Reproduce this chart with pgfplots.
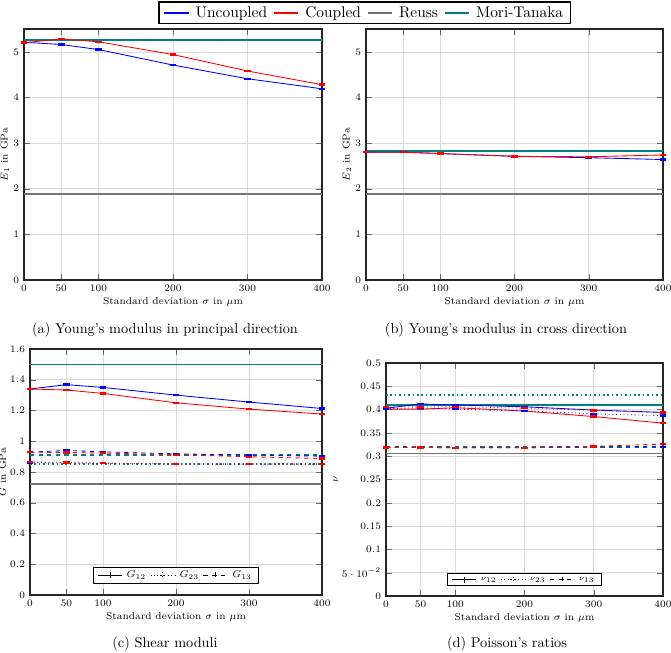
\documentclass[border=0pt]{standalone}
\usepackage{pgfplots}
\pgfplotsset{compat=1.18}
\definecolor{mtcol}{RGB}{0,128,128}
\pgfplotsset{
  myax/.style={scale only axis, anchor=north west, xmin=0, xmax=400,
    xtick={0,50,100,200,300,400}, grid=major, grid style={gray!30},
    tick label style={font=\scriptsize}, label style={font=\scriptsize},
    xlabel={Standard deviation $\sigma$ in $\mu$m},
    axis line style={thick,black!85}, tick style={black!60},
    xlabel style={yshift=3pt}, ylabel style={yshift=-4pt}},
  unc/.style={blue, semithick, forget plot, mark=-, mark size=2.4pt,
    mark options={solid, line width=1.7pt}},
  cpl/.style={red, semithick, forget plot, mark=-, mark size=2.4pt,
    mark options={solid, line width=1.7pt}},
  reuss/.style={black!55, line width=1.1pt, forget plot},
  mt/.style={mtcol, line width=1.1pt, forget plot},
}
\begin{document}
\begin{tikzpicture}
\useasboundingbox (0,0) rectangle (469.7pt,-457.1pt);
% (a)
\begin{axis}[myax, at={(16.8pt,-20.3pt)}, width=208.6pt, height=175.7pt,
  ymin=0, ymax=5.5, ytick={0,1,2,3,4,5}, ylabel={$E_1$ in GPa},
  legend columns=4,
  legend style={at={(1.143,1.064)}, anchor=center, font=\fontsize{10.8}{13}\selectfont,
    draw=black, line width=0.9pt, inner ysep=1pt, column sep=2pt}]
\addlegendimage{blue, line width=1.6pt}\addlegendentry{Uncoupled}
\addlegendimage{red, line width=1.6pt}\addlegendentry{Coupled}
\addlegendimage{black!55, line width=1.6pt}\addlegendentry{Reuss}
\addlegendimage{mtcol, line width=1.6pt}\addlegendentry{Mori-Tanaka}
\addplot[reuss] coordinates {(0,1.89) (400,1.89)};
\addplot[mt] coordinates {(0,5.26) (400,5.26)};
\addplot[unc] coordinates {(0,5.21) (50,5.16) (100,5.05) (200,4.71) (300,4.41) (400,4.19)};
\addplot[cpl] coordinates {(0,5.20) (50,5.28) (100,5.22) (200,4.94) (300,4.58) (400,4.28)};
\end{axis}
% (b)
\begin{axis}[myax, at={(256.2pt,-20.3pt)}, width=207.9pt, height=175.7pt,
  ymin=0, ymax=5.5, ytick={0,1,2,3,4,5}, ylabel={$E_2$ in GPa}]
\addplot[reuss] coordinates {(0,1.89) (400,1.89)};
\addplot[mt] coordinates {(0,2.83) (400,2.83)};
\addplot[unc] coordinates {(0,2.80) (50,2.80) (100,2.77) (200,2.71) (300,2.68) (400,2.64)};
\addplot[cpl] coordinates {(0,2.80) (50,2.80) (100,2.77) (200,2.71) (300,2.70) (400,2.74)};
\end{axis}
% (c)
\begin{axis}[myax, at={(21pt,-244.3pt)}, width=204.4pt, height=172.2pt,
  ymin=0, ymax=1.6, ytick={0,0.2,...,1.6}, ylabel={$G$ in GPa},
  legend columns=3,
  legend style={at={(0.5,0.08)}, anchor=center, font=\scriptsize, draw=black, thick,
    inner ysep=0.5pt, column sep=1pt},
  legend image post style={thin}]
\addlegendimage{black, solid, mark=+}\addlegendentry{$G_{12}$}
\addlegendimage{black, dotted, mark=+}\addlegendentry{$G_{23}$}
\addlegendimage{black, dashed, mark=+}\addlegendentry{$G_{13}$}
\addplot[reuss] coordinates {(0,0.723) (400,0.723)};
\addplot[mt] coordinates {(0,1.50) (400,1.50)};
\addplot[mt, dashed] coordinates {(0,0.910) (400,0.910)};
\addplot[mt, dotted] coordinates {(0,0.851) (400,0.851)};
\addplot[unc] coordinates {(0,1.340) (50,1.368) (100,1.350) (200,1.300) (300,1.255) (400,1.213)};
\addplot[cpl] coordinates {(0,1.340) (50,1.333) (100,1.311) (200,1.250) (300,1.209) (400,1.177)};
\addplot[unc, dashed] coordinates {(0,0.929) (50,0.940) (100,0.931) (200,0.918) (300,0.910) (400,0.903)};
\addplot[cpl, dashed] coordinates {(0,0.929) (50,0.927) (100,0.923) (200,0.912) (300,0.899) (400,0.888)};
\addplot[unc, dotted] coordinates {(0,0.862) (50,0.860) (100,0.857) (200,0.852) (300,0.851) (400,0.851)};
\addplot[cpl, dotted] coordinates {(0,0.866) (50,0.862) (100,0.858) (200,0.852) (300,0.852) (400,0.851)};
\end{axis}
% (d)
\begin{axis}[myax, at={(270.2pt,-254.1pt)}, width=193.9pt, height=163.1pt,
  ymin=0, ymax=0.5, ytick={0,0.05,...,0.5}, ylabel={$\nu$},
  legend columns=3,
  legend style={at={(0.5,0.07)}, anchor=center, font=\tiny, draw=black, thick,
    inner ysep=0.5pt, column sep=1pt},
  legend image post style={thin}]
\addlegendimage{black, solid, mark=+}\addlegendentry{$\nu_{12}$}
\addlegendimage{black, dotted, mark=+}\addlegendentry{$\nu_{23}$}
\addlegendimage{black, dashed, mark=+}\addlegendentry{$\nu_{13}$}
\addplot[reuss] coordinates {(0,0.306) (400,0.306)};
\addplot[mt] coordinates {(0,0.410) (400,0.410)};
\addplot[mt, dotted] coordinates {(0,0.431) (400,0.431)};
\addplot[mt, dashed] coordinates {(0,0.320) (400,0.320)};
\addplot[unc] coordinates {(0,0.403) (50,0.412) (100,0.410) (200,0.406) (300,0.399) (400,0.394)};
\addplot[cpl] coordinates {(0,0.401) (50,0.401) (100,0.404) (200,0.397) (300,0.385) (400,0.371)};
\addplot[unc, dotted] coordinates {(0,0.402) (50,0.404) (100,0.401) (200,0.397) (300,0.391) (400,0.387)};
\addplot[cpl, dotted] coordinates {(0,0.406) (50,0.406) (100,0.406) (200,0.403) (300,0.398) (400,0.394)};
\addplot[unc, dashed] coordinates {(0,0.319) (50,0.319) (100,0.318) (200,0.318) (300,0.320) (400,0.320)};
\addplot[cpl, dashed] coordinates {(0,0.319) (50,0.319) (100,0.318) (200,0.318) (300,0.321) (400,0.326)};
\end{axis}
\node at (115.5pt,-231pt) {(a) Young's modulus in principal direction};
\node at (354.2pt,-231pt) {(b) Young's modulus in cross direction};
\node at (115.5pt,-450.8pt) {(c) Shear moduli};
\node at (354.9pt,-450.8pt) {(d) Poisson's ratios};
\end{tikzpicture}
\end{document}
